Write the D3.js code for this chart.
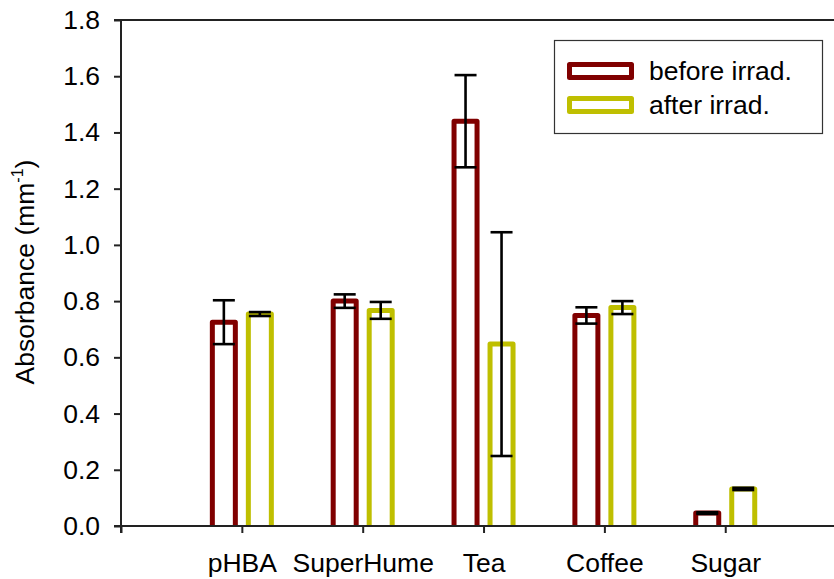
<!DOCTYPE html>
<html>
<head>
<meta charset="utf-8">
<script src="https://cdn.jsdelivr.net/npm/d3@7"></script>
<style>
  body { margin: 0; background: #fff; }
  text { font-family: Arial, "Liberation Sans", sans-serif; fill: #000; }
</style>
</head>
<body>
<div id="chart"></div>
<script>
// data
var categories = ["pHBA", "SuperHume", "Tea", "Coffee", "Sugar"];
var before = [0.725, 0.800, 1.440, 0.749, 0.046];
var beforeErr = [0.078, 0.024, 0.164, 0.029, 0.003];
var after = [0.754, 0.767, 0.647, 0.777, 0.132];
var afterErr = [0.007, 0.030, 0.398, 0.023, 0.004];
var yTicks = [0, 0.2, 0.4, 0.6, 0.8, 1.0, 1.2, 1.4, 1.6, 1.8];
var seriesNames = ["before irrad.", "after irrad."];
var seriesColors = ["#800000", "#bfbf00"];

var width = 834, height = 579;
var fontSize = "26.5px";
var svg = d3.select("#chart").append("svg")
    .attr("width", width)
    .attr("height", height);

// scales: categories sit at 1..5, origin is an empty slot
var x = d3.scaleLinear().domain([0, 5.9]).range([121, 834]);
var y = d3.scaleLinear().domain([0, 1.8]).range([526, 20]);

var barW = 23, offset = 18;

var series = [
    { vals: before, err: beforeErr, dx: -offset, color: seriesColors[0] },
    { vals: after, err: afterErr, dx: offset, color: seriesColors[1] }
];

// bars (open at the bottom, sit on the axis)
series.forEach(function (s) {
    svg.append("g").selectAll("path")
        .data(s.vals)
        .enter().append("path")
        .attr("d", function (d, i) {
            var cx = x(i + 1) + s.dx;
            return "M" + (cx - barW / 2) + "," + y(0) +
                "V" + y(d) + "H" + (cx + barW / 2) + "V" + y(0);
        })
        .attr("fill", "none")
        .attr("stroke", s.color)
        .attr("stroke-width", 5)
        .attr("stroke-linejoin", "round");
});

// error bars
series.forEach(function (s) {
    var g = svg.append("g").attr("stroke", "#000").attr("stroke-width", 2.6);
    s.vals.forEach(function (d, i) {
        var cx = x(i + 1) + s.dx;
        var hi = y(d + s.err[i]), lo = y(d - s.err[i]);
        g.append("line").attr("x1", cx).attr("x2", cx).attr("y1", hi).attr("y2", lo);
        g.append("line").attr("x1", cx - 11).attr("x2", cx + 11).attr("y1", hi).attr("y2", hi);
        g.append("line").attr("x1", cx - 11).attr("x2", cx + 11).attr("y1", lo).attr("y2", lo);
    });
});

// y axis
var yAxis = svg.append("g")
    .attr("transform", "translate(121,0)")
    .call(d3.axisLeft(y).tickValues(yTicks).tickSize(7).tickPadding(14)
        .tickFormat(d3.format(".1f")));
yAxis.select(".domain").attr("stroke", "#222").attr("stroke-width", 2).attr("d", "M0,20V533");
yAxis.selectAll(".tick line").attr("stroke", "#222").attr("stroke-width", 2);
yAxis.selectAll(".tick text").style("font-size", fontSize).attr("font-family", null);

// x axis
var xAxis = svg.append("g")
    .attr("transform", "translate(0,526)")
    .call(d3.axisBottom(x).tickValues([0, 1, 2, 3, 4, 5]).tickSize(7).tickPadding(20)
        .tickFormat(function (d) { return d === 0 ? "" : categories[d - 1]; }));
xAxis.select(".domain").attr("stroke", "#222").attr("stroke-width", 2).attr("d", "M114,0H834");
xAxis.selectAll(".tick line").attr("stroke", "#222").attr("stroke-width", 2);
xAxis.selectAll(".tick text").style("font-size", fontSize).attr("font-family", null);

// top frame line
svg.append("line")
    .attr("x1", 114).attr("x2", 834).attr("y1", 20).attr("y2", 20)
    .attr("stroke", "#222").attr("stroke-width", 2);

// y axis title
var yTitle = svg.append("text")
    .attr("transform", "translate(34,272) rotate(-90)")
    .attr("text-anchor", "middle")
    .style("font-size", fontSize);
yTitle.append("tspan").text("Absorbance (mm");
yTitle.append("tspan").attr("dy", -11).style("font-size", "16px").text("-1");
yTitle.append("tspan").attr("dy", 11).text(")");

// legend
var legend = svg.append("g");
legend.append("rect")
    .attr("x", 554.5).attr("y", 40.5).attr("width", 268).attr("height", 93)
    .attr("fill", "#fff").attr("stroke", "#333").attr("stroke-width", 1.2);
seriesNames.forEach(function (name, i) {
    var yy = 64.5 + i * 34;
    legend.append("rect")
        .attr("x", 569.5).attr("y", yy).attr("width", 62).attr("height", 13)
        .attr("fill", "none").attr("stroke", seriesColors[i])
        .attr("stroke-width", 5).attr("stroke-linejoin", "round");
    legend.append("text")
        .attr("x", 649).attr("y", yy + 15)
        .style("font-size", fontSize)
        .text(name);
});
</script>
</body>
</html>
